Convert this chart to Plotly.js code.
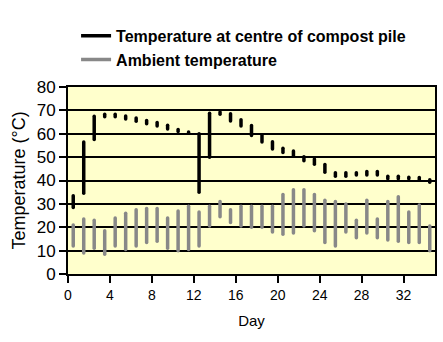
<!DOCTYPE html>
<html>
<head>
<meta charset="utf-8">
<script src="https://cdn.plot.ly/plotly-3.0.1.min.js"></script>
<style>html,body{margin:0;padding:0;background:#fff;}#chart{width:443px;height:342px;}
#chart .scatterlayer path.js-line{stroke-linecap:round;}
</style>
</head>
<body>
<div id="chart"></div>
<script>
// Day positions (centre of each day)
const days = [0.5,1.5,2.5,3.5,4.5,5.5,6.5,7.5,8.5,9.5,10.5,11.5,12.5,13.5,14.5,15.5,16.5,17.5,18.5,19.5,20.5,21.5,22.5,23.5,24.5,25.5,26.5,27.5,28.5,29.5,30.5,31.5,32.5,33.5,34.5];
// Temperature at centre of compost pile: daily min / max (°C)
const coreLow  = [28.5,34.5,57.5,67.3,67.3,66.3,65.3,64.3,63.3,62,61,60.3,35,50,68.3,65.5,63.3,59.3,56.5,53.5,52,50.5,48.5,47,43.5,41.8,41.8,42.3,42.3,42.3,40.8,40.8,40.8,40.3,39.3];
const coreHigh = [33.5,56.5,67.5,68.3,68.3,67.6,66.7,65.7,64.8,63.6,61.8,60.8,60,68.8,69.3,68.6,66,63.5,59.6,56.6,53.8,52.6,50.2,49.2,46.8,43.3,43.3,43.3,43.8,43.8,41.8,41.8,41.4,41.3,40.3];
// Ambient temperature: daily min / max (°C)
const ambLow  = [12,9,11,8.5,12,10.5,12,13.5,14,11,10,10.5,12,20.5,24.5,22,20.5,20,20,18,17,17.5,20.5,18.5,13.5,12,18,15.5,17.5,15.5,14.5,14,13.5,13.5,10];
const ambHigh = [21,23.5,23,18.5,24,26,27.5,28,28,24,27,29,26.5,29,31,27.5,29,29,29,29,34,36,36,34,31.5,31,30,23,31.5,23.5,31,33,26.5,29.5,20.5];

const seriesNames = ['Temperature at centre of compost pile','Ambient temperature'];

function rangeSegments(xs, lo, hi){
  const x=[], y=[];
  for(let i=0;i<xs.length;i++){ x.push(xs[i],xs[i],null); y.push(lo[i],hi[i],null); }
  return {x,y};
}
const core = rangeSegments(days, coreLow, coreHigh);
const amb = rangeSegments(days, ambLow, ambHigh);

const traces = [
  {x: core.x, y: core.y, mode:'lines', name: seriesNames[0], line:{color:'#000000', width:3.5}, connectgaps:false, hoverinfo:'skip'},
  {x: amb.x, y: amb.y, mode:'lines', name: seriesNames[1], line:{color:'#888888', width:3.5}, connectgaps:false, hoverinfo:'skip'}
];

const layout = {
  width:443, height:342,
  margin:{l:68, r:8, t:87, b:68},
  paper_bgcolor:'#ffffff',
  plot_bgcolor:'#ffffcc',
  font:{family:'Arial, "Liberation Sans", sans-serif', color:'#000'},
  showlegend:true,
  legend:{x:0.022, y:1.365, xanchor:'left', yanchor:'top', bgcolor:'rgba(0,0,0,0)', font:{size:16, color:'#000', weight:'bold'}, tracegroupgap:0},
  xaxis:{
    range:[0,35], tickmode:'array', tickvals:[0,4,8,12,16,20,24,28,32], ticktext:['0','4','8','12','16','20','24','28','32'],
    ticks:'outside', ticklen:7, tickwidth:2, tickcolor:'#000',
    showline:true, linewidth:2, linecolor:'#000', mirror:true,
    showgrid:false, zeroline:false,
    tickfont:{size:14}, title:{text:'Day', font:{size:15}, standoff:14}
  },
  yaxis:{
    range:[0,80], dtick:10, tick0:0,
    ticks:'outside', ticklen:7, tickwidth:2, tickcolor:'#000',
    showline:true, linewidth:2, linecolor:'#000', mirror:true,
    showgrid:true, gridcolor:'#000', gridwidth:2, zeroline:false,
    tickfont:{size:17}, title:{text:'Temperature (°C)', font:{size:18}, standoff:6}
  }
};

Plotly.newPlot('chart', traces, layout, {displayModeBar:false, staticPlot:true});
</script>
</body>
</html>
